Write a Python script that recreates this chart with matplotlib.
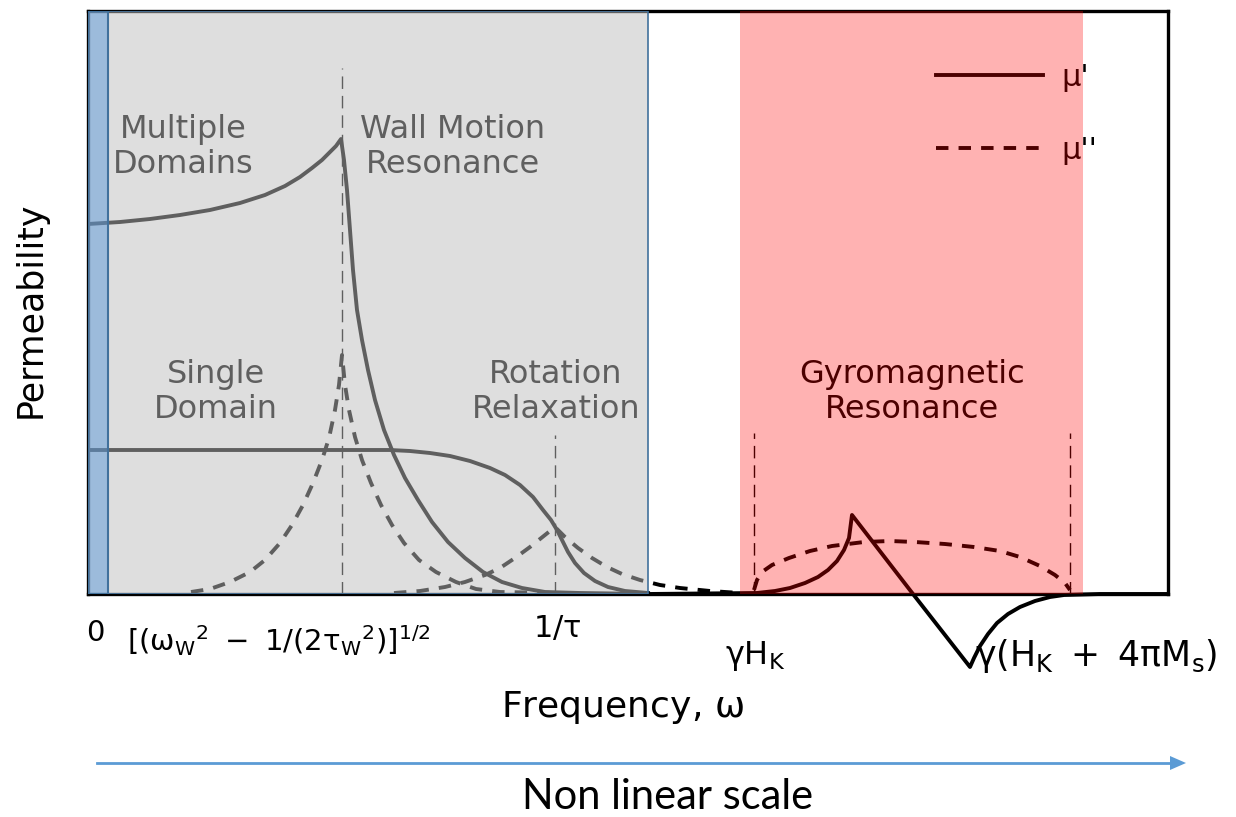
import matplotlib.pyplot as plt
import numpy as np

plt.rcParams['mathtext.default'] = 'regular'

# frequency axis is schematic (non linear), permeability in arbitrary units
# multiple domains -> wall motion resonance, mu'
wall_mu1_x = [88, 120, 150, 180, 210, 240, 265, 285, 300, 312, 322, 330, 336, 341,
              344, 347, 350, 353, 357, 362, 368, 375, 384, 394, 405, 418, 432, 448,
              465, 483, 502, 522, 545, 580, 648]
wall_mu1_y = [370, 372, 375, 379, 384, 391, 399, 408, 417, 426, 434, 442, 448, 455,
              434, 404, 364, 324, 284, 254, 224, 194, 164, 139, 116, 94, 72, 52,
              36, 22, 12, 6, 2, 1, 0]
# wall motion resonance, mu''
wall_mu2_x = [191, 210, 230, 250, 265, 280, 292, 303, 313, 322, 329, 335, 339, 342,
              345, 349, 355, 362, 371, 381, 392, 404, 419, 436, 456, 476, 500, 560]
wall_mu2_y = [2, 5, 12, 22, 34, 51, 69, 89, 111, 134, 156, 184, 209, 239,
              209, 184, 157, 134, 111, 89, 69, 51, 34, 22, 12, 5, 2, 1]
# single domain -> rotation relaxation, mu'
rot_mu1_x = [88, 200, 300, 390, 410, 430, 450, 470, 490, 505, 520, 533, 543, 551,
             557, 562, 568, 575, 584, 595, 608, 625, 648]
rot_mu1_y = [144, 144, 144, 144, 143, 141, 138, 133, 126, 119, 109, 97, 84, 74,
             64, 54, 42, 31, 21, 13, 7, 3, 1]
# rotation relaxation, mu''
rot_mu2_x = [394, 420, 445, 465, 485, 500, 515, 530, 545, 555, 565, 578, 592, 607,
             622, 640, 660, 680, 710, 740]
rot_mu2_y = [1, 3, 7, 12, 19, 26, 36, 47, 59, 67, 57, 46, 36, 27,
             20, 14, 9, 6, 3, 1]
# gyromagnetic resonance, mu'
gyro_mu1_x = [648, 757, 775, 790, 805, 818, 828, 837, 844, 849, 852, 913, 970, 974,
              980, 988, 997, 1008, 1020, 1035, 1050, 1064, 1100, 1168]
gyro_mu1_y = [0, 1, 3, 6, 11, 17, 24, 33, 44, 56, 79, 0, -73, -64,
              -52, -40, -29, -20, -13, -7, -3, -1, 0, 0]
# gyromagnetic resonance, mu''
gyro_mu2_x = [754, 757, 762, 772, 789, 810, 832, 864, 890, 915, 945, 974, 1000, 1020,
              1040, 1055, 1065, 1070]
gyro_mu2_y = [4, 14, 22, 29, 36, 43, 48, 52, 53, 52, 50, 47, 43, 37,
              28, 19, 11, 4]

# characteristic frequencies (marked with thin dashed lines)
mark_x = [342, 555, 754, 1070]
mark_top = [526, 159, 161, 161]

region_labels = ['Multiple\nDomains', 'Wall Motion\nResonance', 'Single\nDomain',
                 'Rotation\nRelaxation', 'Gyromagnetic\nResonance']
region_pos = [(183, 447), (453, 447), (216, 202), (556, 202), (912, 202)]

fig = plt.figure(figsize=(12.36, 8.17), dpi=100)
ax = fig.add_axes([88 / 1236, 1 - 594 / 817, 1080 / 1236, 583 / 817])
ax.set_xlim(88, 1168)
ax.set_ylim(0, 583)
ax.set_xticks([])
ax.set_yticks([])
for s in ax.spines.values():
    s.set_linewidth(2.4)
    s.set_color('black')

lw = 2.8
dash = (0, (3.2, 2.6))
ax.plot(wall_mu1_x, wall_mu1_y, color='black', lw=lw, zorder=3)
ax.plot(wall_mu2_x, wall_mu2_y, color='black', lw=lw, ls=dash, zorder=3)
ax.plot(rot_mu1_x, rot_mu1_y, color='black', lw=lw, zorder=3)
ax.plot(rot_mu2_x, rot_mu2_y, color='black', lw=lw, ls=dash, zorder=3)
ax.plot(gyro_mu1_x, gyro_mu1_y, color='black', lw=lw, zorder=3, clip_on=False, label="μ'")
ax.plot(gyro_mu2_x, gyro_mu2_y, color='black', lw=lw, ls=dash, zorder=3, label="μ''")
ax.vlines(mark_x, 0, mark_top, colors='black', lw=1.0, linestyles=(0, (9, 5)), zorder=3)

for txt, (x, y) in zip(region_labels, region_pos):
    ax.text(x, y, txt, ha='center', va='center', fontsize=23, color='black',
            linespacing=1.15, zorder=4)

leg = ax.legend(loc='upper left', bbox_to_anchor=(0.785, 0.911), frameon=False,
                fontsize=22, handlelength=3.5, handletextpad=0.6, labelspacing=1.43,
                borderpad=0, borderaxespad=0)
leg.set_zorder(4)

# shaded regions laid over the curves
ax.axvspan(88, 648, fc=(0.745, 0.745, 0.745, 0.506), ec='#41719c', lw=1.2, zorder=10)
ax.axvspan(88, 108, fc=(0.36, 0.60, 0.85, 0.5), ec='#41719c', lw=1.5, zorder=11)
ax.axvspan(740, 1083, fc=(1, 0, 0, 0.3), lw=0, zorder=10)

# frequency labels under the axis
ax.text(95, -39, '0', ha='center', va='center', fontsize=21, clip_on=False)
ax.text(279, -47, r'$[(\omega_W{}^2\ -\ 1/(2\tau_W{}^2)]^{1/2}$', ha='center', va='center',
        fontsize=21, clip_on=False)
ax.text(557, -34, r'$1/\tau$', ha='center', va='center', fontsize=22, clip_on=False)
ax.text(755, -62, r'$\gamma H_K$', ha='center', va='center', fontsize=23, clip_on=False)
ax.text(975, -62, r'$\gamma(H_K\ +\ 4\pi M_s)$', ha='left', va='center', fontsize=25,
        clip_on=False)
ax.text(622, -113, r'Frequency, $\omega$', ha='center', va='center', fontsize=26, clip_on=False)
ax.set_ylabel('Permeability', fontsize=25)
ax.yaxis.set_label_coords(-0.037, 0.487)

fig.add_artist(plt.Line2D([97 / 1236, 1172 / 1236], [1 - 763 / 817] * 2, color='#5b9bd5', lw=2))
fig.patches.append(plt.Polygon([[1170 / 1236, 1 - 756 / 817], [1186 / 1236, 1 - 763 / 817],
                                [1170 / 1236, 1 - 770 / 817]], closed=True, fc='#5b9bd5',
                               ec='none', transform=fig.transFigure, figure=fig))
fig.text(668 / 1236, 1 - 797 / 817, 'Non linear scale', ha='center', va='center',
         fontsize=30, family='Lato')

fig.savefig('out.png', dpi=100)
